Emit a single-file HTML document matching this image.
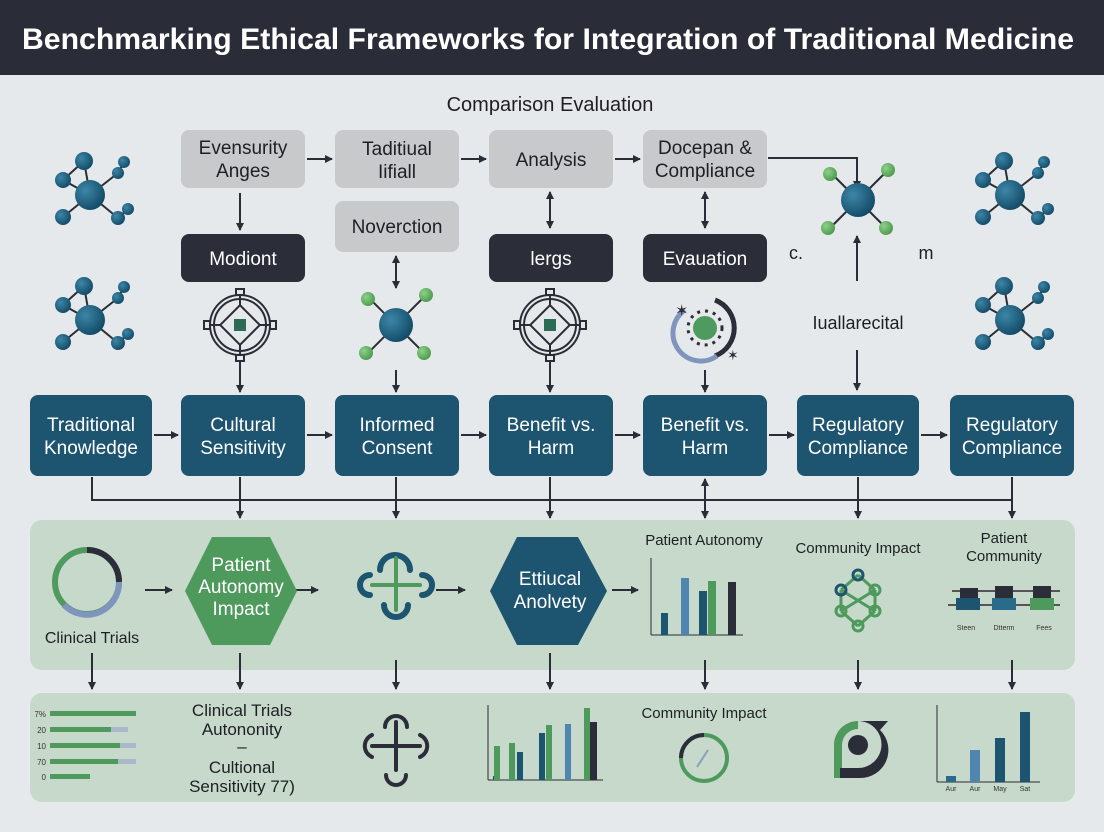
<!DOCTYPE html>
<html><head><meta charset="utf-8"><style>
html,body{margin:0;padding:0;background:#e6e9eb;}
svg{display:block;font-family:"Liberation Sans",sans-serif;}
</style></head><body>
<svg width="1104" height="832" viewBox="0 0 1104 832" xmlns="http://www.w3.org/2000/svg">
<defs>
<marker id="a" markerWidth="8" markerHeight="8" refX="7" refY="4" orient="auto-start-reverse" markerUnits="userSpaceOnUse"><path d="M0,0 L8,4 L0,8 z" fill="#2b2d36"/></marker>
<radialGradient id="b" cx="35%" cy="35%" r="70%"><stop offset="0" stop-color="#3d86a8"/><stop offset="1" stop-color="#124a66"/></radialGradient>
<radialGradient id="g" cx="35%" cy="35%" r="70%"><stop offset="0" stop-color="#8fd08a"/><stop offset="1" stop-color="#4a9a4d"/></radialGradient>
<g id="mol">
<g stroke="#2b2d36" stroke-width="2"><line x1="0" y1="0" x2="-6" y2="-34"/><line x1="-6" y1="-34" x2="-27" y2="-15"/><line x1="-27" y1="-15" x2="0" y2="0"/><line x1="0" y1="0" x2="-27" y2="22"/><line x1="0" y1="0" x2="28" y2="-22"/><line x1="28" y1="-22" x2="34" y2="-33"/><line x1="0" y1="0" x2="28" y2="23"/><line x1="28" y1="23" x2="38" y2="14"/></g>
<circle r="15" fill="url(#b)"/><circle cx="-6" cy="-34" r="9" fill="url(#b)"/><circle cx="-27" cy="-15" r="8" fill="url(#b)"/><circle cx="-27" cy="22" r="8" fill="url(#b)"/><circle cx="28" cy="-22" r="6" fill="url(#b)"/><circle cx="34" cy="-33" r="6" fill="url(#b)"/><circle cx="28" cy="23" r="7" fill="url(#b)"/><circle cx="38" cy="14" r="6" fill="url(#b)"/>
</g>
<g id="gmol">
<g stroke="#2b2d36" stroke-width="2"><line x1="-30" y1="-30" x2="30" y2="30"/><line x1="30" y1="-30" x2="-30" y2="30"/></g>
<circle r="17" fill="url(#b)"/><circle cx="-28" cy="-26" r="7" fill="url(#g)"/><circle cx="30" cy="-30" r="7" fill="url(#g)"/><circle cx="-30" cy="28" r="7" fill="url(#g)"/><circle cx="28" cy="28" r="7" fill="url(#g)"/>
</g>
<g id="circ" fill="none" stroke="#2b2d36" stroke-width="2">
<circle r="30"/><circle r="26"/><rect x="-14" y="-14" width="28" height="28" transform="rotate(45)"/><rect x="-6" y="-6" width="12" height="12" fill="#2e6b55" stroke="none"/>
<line x1="0" y1="-30" x2="0" y2="-20"/><line x1="0" y1="30" x2="0" y2="20"/><line x1="-30" y1="0" x2="-20" y2="0"/><line x1="30" y1="0" x2="20" y2="0"/>
<rect x="-4" y="-36" width="8" height="6"/><rect x="-4" y="30" width="8" height="6"/><rect x="-36" y="-4" width="6" height="8"/><rect x="30" y="-4" width="6" height="8"/>
</g>
</defs>

<rect x="0" y="0" width="1104" height="75" fill="#2a2d37"/>
<text x="548" y="49" text-anchor="middle" font-size="30" font-weight="bold" fill="#fff" textLength="1052" lengthAdjust="spacingAndGlyphs">Benchmarking Ethical Frameworks for Integration of Traditional Medicine</text>

<text x="550" y="111" text-anchor="middle" font-size="20" fill="#1e1f24">Comparison Evaluation</text>

<g fill="#c8c9cb">
<rect x="181" y="130" width="124" height="58" rx="8"/><rect x="335" y="130" width="124" height="58" rx="8"/><rect x="489" y="130" width="124" height="58" rx="8"/><rect x="643" y="130" width="124" height="58" rx="8"/><rect x="335" y="201" width="124" height="51" rx="8"/>
</g>
<g font-size="19" fill="#1e1f24" text-anchor="middle">
<text x="243" y="154">Evensurity</text><text x="243" y="177">Anges</text>
<text x="397" y="155">Taditiual</text><text x="397" y="178">Iifiall</text>
<text x="551" y="166">Analysis</text>
<text x="705" y="154">Docepan &amp;</text><text x="705" y="177">Compliance</text>
<text x="397" y="233">Noverction</text>
</g>
<g fill="#2b2d38"><rect x="181" y="234" width="124" height="48" rx="8"/><rect x="489" y="234" width="124" height="48" rx="8"/><rect x="643" y="234" width="124" height="48" rx="8"/></g>
<g font-size="19" fill="#fff" text-anchor="middle"><text x="243" y="265">Modiont</text><text x="551" y="265">lergs</text><text x="705" y="265">Evauation</text></g>
<g font-size="18" fill="#1e1f24" text-anchor="middle"><text x="796" y="259">c.</text><text x="926" y="259">m</text><text x="858" y="329">Iuallarecital</text></g>

<g stroke="#2b2d36" stroke-width="2" fill="none">
<line x1="307" y1="159" x2="332" y2="159" marker-end="url(#a)"/><line x1="461" y1="159" x2="486" y2="159" marker-end="url(#a)"/><line x1="615" y1="159" x2="640" y2="159" marker-end="url(#a)"/>
<polyline points="768,158 857,158 857,188" marker-end="url(#a)"/>
<line x1="857" y1="281" x2="857" y2="236" marker-end="url(#a)"/>
<line x1="857" y1="350" x2="857" y2="390" marker-end="url(#a)"/>
<line x1="240" y1="193" x2="240" y2="230" marker-end="url(#a)"/>
<line x1="396" y1="256" x2="396" y2="288" marker-start="url(#a)" marker-end="url(#a)"/>
<line x1="550" y1="192" x2="550" y2="228" marker-start="url(#a)" marker-end="url(#a)"/>
<line x1="705" y1="192" x2="705" y2="228" marker-start="url(#a)" marker-end="url(#a)"/>
<line x1="240" y1="360" x2="240" y2="392" marker-end="url(#a)"/><line x1="396" y1="370" x2="396" y2="392" marker-end="url(#a)"/><line x1="550" y1="360" x2="550" y2="392" marker-end="url(#a)"/><line x1="705" y1="370" x2="705" y2="392" marker-end="url(#a)"/>
<line x1="154" y1="435" x2="178" y2="435" marker-end="url(#a)"/><line x1="307" y1="435" x2="332" y2="435" marker-end="url(#a)"/><line x1="461" y1="435" x2="486" y2="435" marker-end="url(#a)"/><line x1="615" y1="435" x2="640" y2="435" marker-end="url(#a)"/><line x1="769" y1="435" x2="794" y2="435" marker-end="url(#a)"/><line x1="921" y1="435" x2="947" y2="435" marker-end="url(#a)"/>
<polyline points="92,477 92,500 1012,500 1012,477"/>
<line x1="240" y1="477" x2="240" y2="518" marker-end="url(#a)"/><line x1="396" y1="477" x2="396" y2="518" marker-end="url(#a)"/><line x1="550" y1="477" x2="550" y2="518" marker-end="url(#a)"/><line x1="705" y1="479" x2="705" y2="518" marker-start="url(#a)" marker-end="url(#a)"/><line x1="858" y1="477" x2="858" y2="518" marker-end="url(#a)"/><line x1="1012" y1="500" x2="1012" y2="518" marker-end="url(#a)"/>
</g>

<use href="#mol" x="90" y="195"/><use href="#mol" x="90" y="320"/><use href="#mol" x="1010" y="195"/><use href="#mol" x="1010" y="320"/>
<use href="#gmol" x="858" y="200"/><use href="#gmol" x="396" y="325"/>
<use href="#circ" x="240" y="325"/><use href="#circ" x="550" y="325"/>
<g transform="translate(705,328)"><path d="M10,-28 A30,30 0 0 1 10,28" fill="none" stroke="#2b2d38" stroke-width="5"/><path d="M-20,-18 A28,28 0 0 0 12,28" fill="none" stroke="#8095bd" stroke-width="5"/><circle r="17" fill="none" stroke="#2b2d38" stroke-width="3" stroke-dasharray="3 5"/><circle r="12" fill="#4e9a5f"/><text x="-30" y="-12" font-size="16" fill="#2b2d38">✶</text><text x="22" y="32" font-size="14" fill="#2b2d38">✶</text></g>

<g fill="#1d546f">
<rect x="30" y="395" width="122" height="81" rx="8"/><rect x="181" y="395" width="124" height="81" rx="8"/><rect x="335" y="395" width="124" height="81" rx="8"/><rect x="489" y="395" width="124" height="81" rx="8"/><rect x="643" y="395" width="124" height="81" rx="8"/><rect x="797" y="395" width="122" height="81" rx="8"/><rect x="950" y="395" width="124" height="81" rx="8"/>
</g>
<g font-size="19" fill="#fff" text-anchor="middle">
<text x="91" y="431">Traditional</text><text x="91" y="454">Knowledge</text>
<text x="243" y="431">Cultural</text><text x="243" y="454">Sensitivity</text>
<text x="397" y="431">Informed</text><text x="397" y="454">Consent</text>
<text x="551" y="431">Benefit vs.</text><text x="551" y="454">Harm</text>
<text x="705" y="431">Benefit vs.</text><text x="705" y="454">Harm</text>
<text x="858" y="431">Regulatory</text><text x="858" y="454">Compliance</text>
<text x="1012" y="431">Regulatory</text><text x="1012" y="454">Compliance</text>
</g>

<rect x="30" y="520" width="1045" height="150" rx="12" fill="#c6d9cb"/>
<rect x="30" y="693" width="1045" height="109" rx="12" fill="#c6d9cb"/>
<g stroke="#2b2d36" stroke-width="2">
<line x1="92" y1="653" x2="92" y2="689" marker-end="url(#a)"/><line x1="240" y1="653" x2="240" y2="689" marker-end="url(#a)"/><line x1="396" y1="660" x2="396" y2="689" marker-end="url(#a)"/><line x1="550" y1="653" x2="550" y2="689" marker-end="url(#a)"/><line x1="705" y1="660" x2="705" y2="689" marker-end="url(#a)"/><line x1="858" y1="660" x2="858" y2="689" marker-end="url(#a)"/><line x1="1012" y1="660" x2="1012" y2="689" marker-end="url(#a)"/>
<line x1="145" y1="590" x2="172" y2="590" marker-end="url(#a)"/><line x1="290" y1="590" x2="318" y2="590" marker-end="url(#a)"/><line x1="436" y1="590" x2="465" y2="590" marker-end="url(#a)"/><line x1="612" y1="590" x2="638" y2="590" marker-end="url(#a)"/>
</g>

<g fill="none" stroke-width="6"><circle cx="87" cy="582" r="32" stroke="#4f9a5f"/><path d="M87,550 A32,32 0 0 1 119,582" stroke="#2b2d38"/><path d="M119,582 A32,32 0 0 1 64,605" stroke="#8095bd"/></g>
<text x="92" y="643" text-anchor="middle" font-size="16" fill="#1e1f24">Clinical Trials</text>
<polygon points="212,537 270,537 297,591 270,645 212,645 185,591" fill="#4d9a5c"/>
<g font-size="19" fill="#fff" text-anchor="middle"><text x="241" y="571">Patient</text><text x="241" y="593">Autonomy</text><text x="241" y="615">Impact</text></g>
<g fill="none" stroke-linecap="round"><path d="M380,570 A10,10 0 0 1 410,570 M384,605 A10,10 0 0 0 408,605 M370,575 A10,10 0 0 0 370,595 M422,575 A10,10 0 0 1 422,595" stroke="#1d546f" stroke-width="6"/><line x1="396" y1="558" x2="396" y2="610" stroke="#4d9a5c" stroke-width="4"/><line x1="372" y1="585" x2="420" y2="585" stroke="#4d9a5c" stroke-width="4"/></g>
<polygon points="517,537 578,537 607,591 578,645 517,645 490,591" fill="#1d546f"/>
<g font-size="19" fill="#fff" text-anchor="middle"><text x="550" y="585">Ettiucal</text><text x="550" y="608">Anolvety</text></g>
<text x="704" y="545" text-anchor="middle" font-size="15" fill="#1e1f24">Patient Autonomy</text>
<g><line x1="651" y1="558" x2="651" y2="635" stroke="#2b2d36"/><line x1="651" y1="635" x2="743" y2="635" stroke="#2b2d36"/>
<rect x="661" y="613" width="7" height="22" fill="#1d546f"/><rect x="681" y="578" width="8" height="57" fill="#4f86b0"/><rect x="699" y="591" width="8" height="44" fill="#1d546f"/><rect x="708" y="581" width="8" height="54" fill="#4d9a5c"/><rect x="728" y="582" width="8" height="53" fill="#2b2d38"/></g>
<text x="858" y="553" text-anchor="middle" font-size="15" fill="#1e1f24">Community Impact</text>
<g stroke="#4d9a5c" stroke-width="3" fill="none"><line x1="841" y1="590" x2="858" y2="575"/><line x1="858" y1="575" x2="875" y2="590"/><line x1="841" y1="590" x2="841" y2="611"/><line x1="875" y1="590" x2="875" y2="611"/><line x1="841" y1="611" x2="858" y2="626"/><line x1="875" y1="611" x2="858" y2="626"/><line x1="841" y1="611" x2="875" y2="590"/><line x1="841" y1="590" x2="875" y2="611"/><circle cx="858" cy="575" r="5" stroke="#1d546f"/><circle cx="841" cy="590" r="5" stroke="#1d546f"/><circle cx="875" cy="590" r="5"/><circle cx="841" cy="611" r="5"/><circle cx="875" cy="611" r="5"/><circle cx="858" cy="626" r="5"/></g>
<g font-size="15" fill="#1e1f24" text-anchor="middle"><text x="1004" y="543">Patient</text><text x="1004" y="561">Community</text></g>
<g><rect x="952" y="590" width="108" height="2" fill="#555"/><rect x="948" y="604" width="112" height="2" fill="#555"/>
<rect x="960" y="588" width="18" height="12" fill="#2b2d38"/><rect x="956" y="598" width="24" height="12" fill="#1d546f"/>
<rect x="995" y="586" width="18" height="12" fill="#2b2d38"/><rect x="992" y="598" width="24" height="12" fill="#2a6a8a"/>
<rect x="1033" y="586" width="18" height="12" fill="#2b2d38"/><rect x="1030" y="598" width="24" height="12" fill="#4d9a5c"/>
<g font-size="7" fill="#333" text-anchor="middle"><text x="966" y="630">Steen</text><text x="1004" y="630">Dtterm</text><text x="1044" y="630">Fees</text></g></g>

<g><rect x="50" y="711" width="86" height="5" fill="#4d9a5c"/><rect x="50" y="727" width="78" height="5" fill="#aab8c9"/><rect x="50" y="727" width="61" height="5" fill="#4d9a5c"/><rect x="50" y="743" width="86" height="5" fill="#aab8c9"/><rect x="50" y="743" width="70" height="5" fill="#4d9a5c"/><rect x="50" y="759" width="86" height="5" fill="#aab8c9"/><rect x="50" y="759" width="68" height="5" fill="#4d9a5c"/><rect x="50" y="774" width="40" height="5" fill="#4d9a5c"/>
<g font-size="8" fill="#333" text-anchor="end"><text x="46" y="717">7%</text><text x="46" y="733">20</text><text x="46" y="749">10</text><text x="46" y="765">70</text><text x="46" y="780">0</text></g></g>
<g font-size="17" fill="#1e1f24" text-anchor="middle"><text x="242" y="716">Clinical Trials</text><text x="242" y="735">Autononity</text><text x="242" y="752">–</text><text x="242" y="773">Cultional</text><text x="242" y="792">Sensitivity 77)</text></g>
<g fill="none" stroke="#2b2d38" stroke-width="4" stroke-linecap="round"><line x1="396" y1="722" x2="396" y2="770"/><line x1="372" y1="746" x2="420" y2="746"/><path d="M385,727 A11,11 0 0 1 407,727 M386,775 A10,10 0 0 0 406,775 M372,735 A12,12 0 0 0 372,757 M420,735 A12,12 0 0 1 420,757"/></g>
<g><line x1="488" y1="705" x2="488" y2="780" stroke="#2b2d36"/><line x1="488" y1="780" x2="603" y2="780" stroke="#2b2d36"/>
<rect x="493" y="776" width="5" height="4" fill="#1d546f"/><rect x="494" y="746" width="6" height="34" fill="#4d9a5c"/><rect x="509" y="743" width="6" height="37" fill="#4d9a5c"/><rect x="517" y="752" width="6" height="28" fill="#1d546f"/><rect x="539" y="733" width="6" height="47" fill="#1d546f"/><rect x="546" y="725" width="6" height="55" fill="#4d9a5c"/><rect x="565" y="724" width="6" height="56" fill="#4f86b0"/><rect x="584" y="708" width="6" height="72" fill="#4d9a5c"/><rect x="590" y="722" width="7" height="58" fill="#2b2d38"/></g>
<text x="704" y="718" text-anchor="middle" font-size="15" fill="#1e1f24">Community Impact</text>
<g fill="none" stroke-width="4"><circle cx="704" cy="758" r="23" stroke="#4d9a5c"/><path d="M681,758 A23,23 0 0 1 704,735" stroke="#2b2d38"/><line x1="697" y1="767" x2="708" y2="750" stroke="#8aa0bb" stroke-width="2"/></g>
<g><path d="M834,778 L834,745 A24,24 0 0 1 858,721 L858,729 A16,16 0 0 0 842,745 L842,778 Z" fill="#4d9a5c"/><path d="M858,721 L888,721 L880,730 A28,28 0 0 1 860,778 L840,778 L840,768 L858,768 A22,22 0 0 0 858,721 Z" fill="#2b2d38"/><circle cx="858" cy="745" r="10" fill="#2b2d38"/></g>
<g><line x1="937" y1="705" x2="937" y2="782" stroke="#2b2d36"/><line x1="937" y1="782" x2="1040" y2="782" stroke="#2b2d36"/><rect x="946" y="776" width="10" height="6" fill="#2a6a8a"/><rect x="970" y="750" width="10" height="32" fill="#4f86b0"/><rect x="995" y="738" width="10" height="44" fill="#1d546f"/><rect x="1020" y="712" width="10" height="70" fill="#1d546f"/>
<g font-size="7" fill="#333" text-anchor="middle"><text x="951" y="791">Aur</text><text x="975" y="791">Aur</text><text x="1000" y="791">May</text><text x="1025" y="791">Sat</text></g></g>
</svg>
</body></html>
